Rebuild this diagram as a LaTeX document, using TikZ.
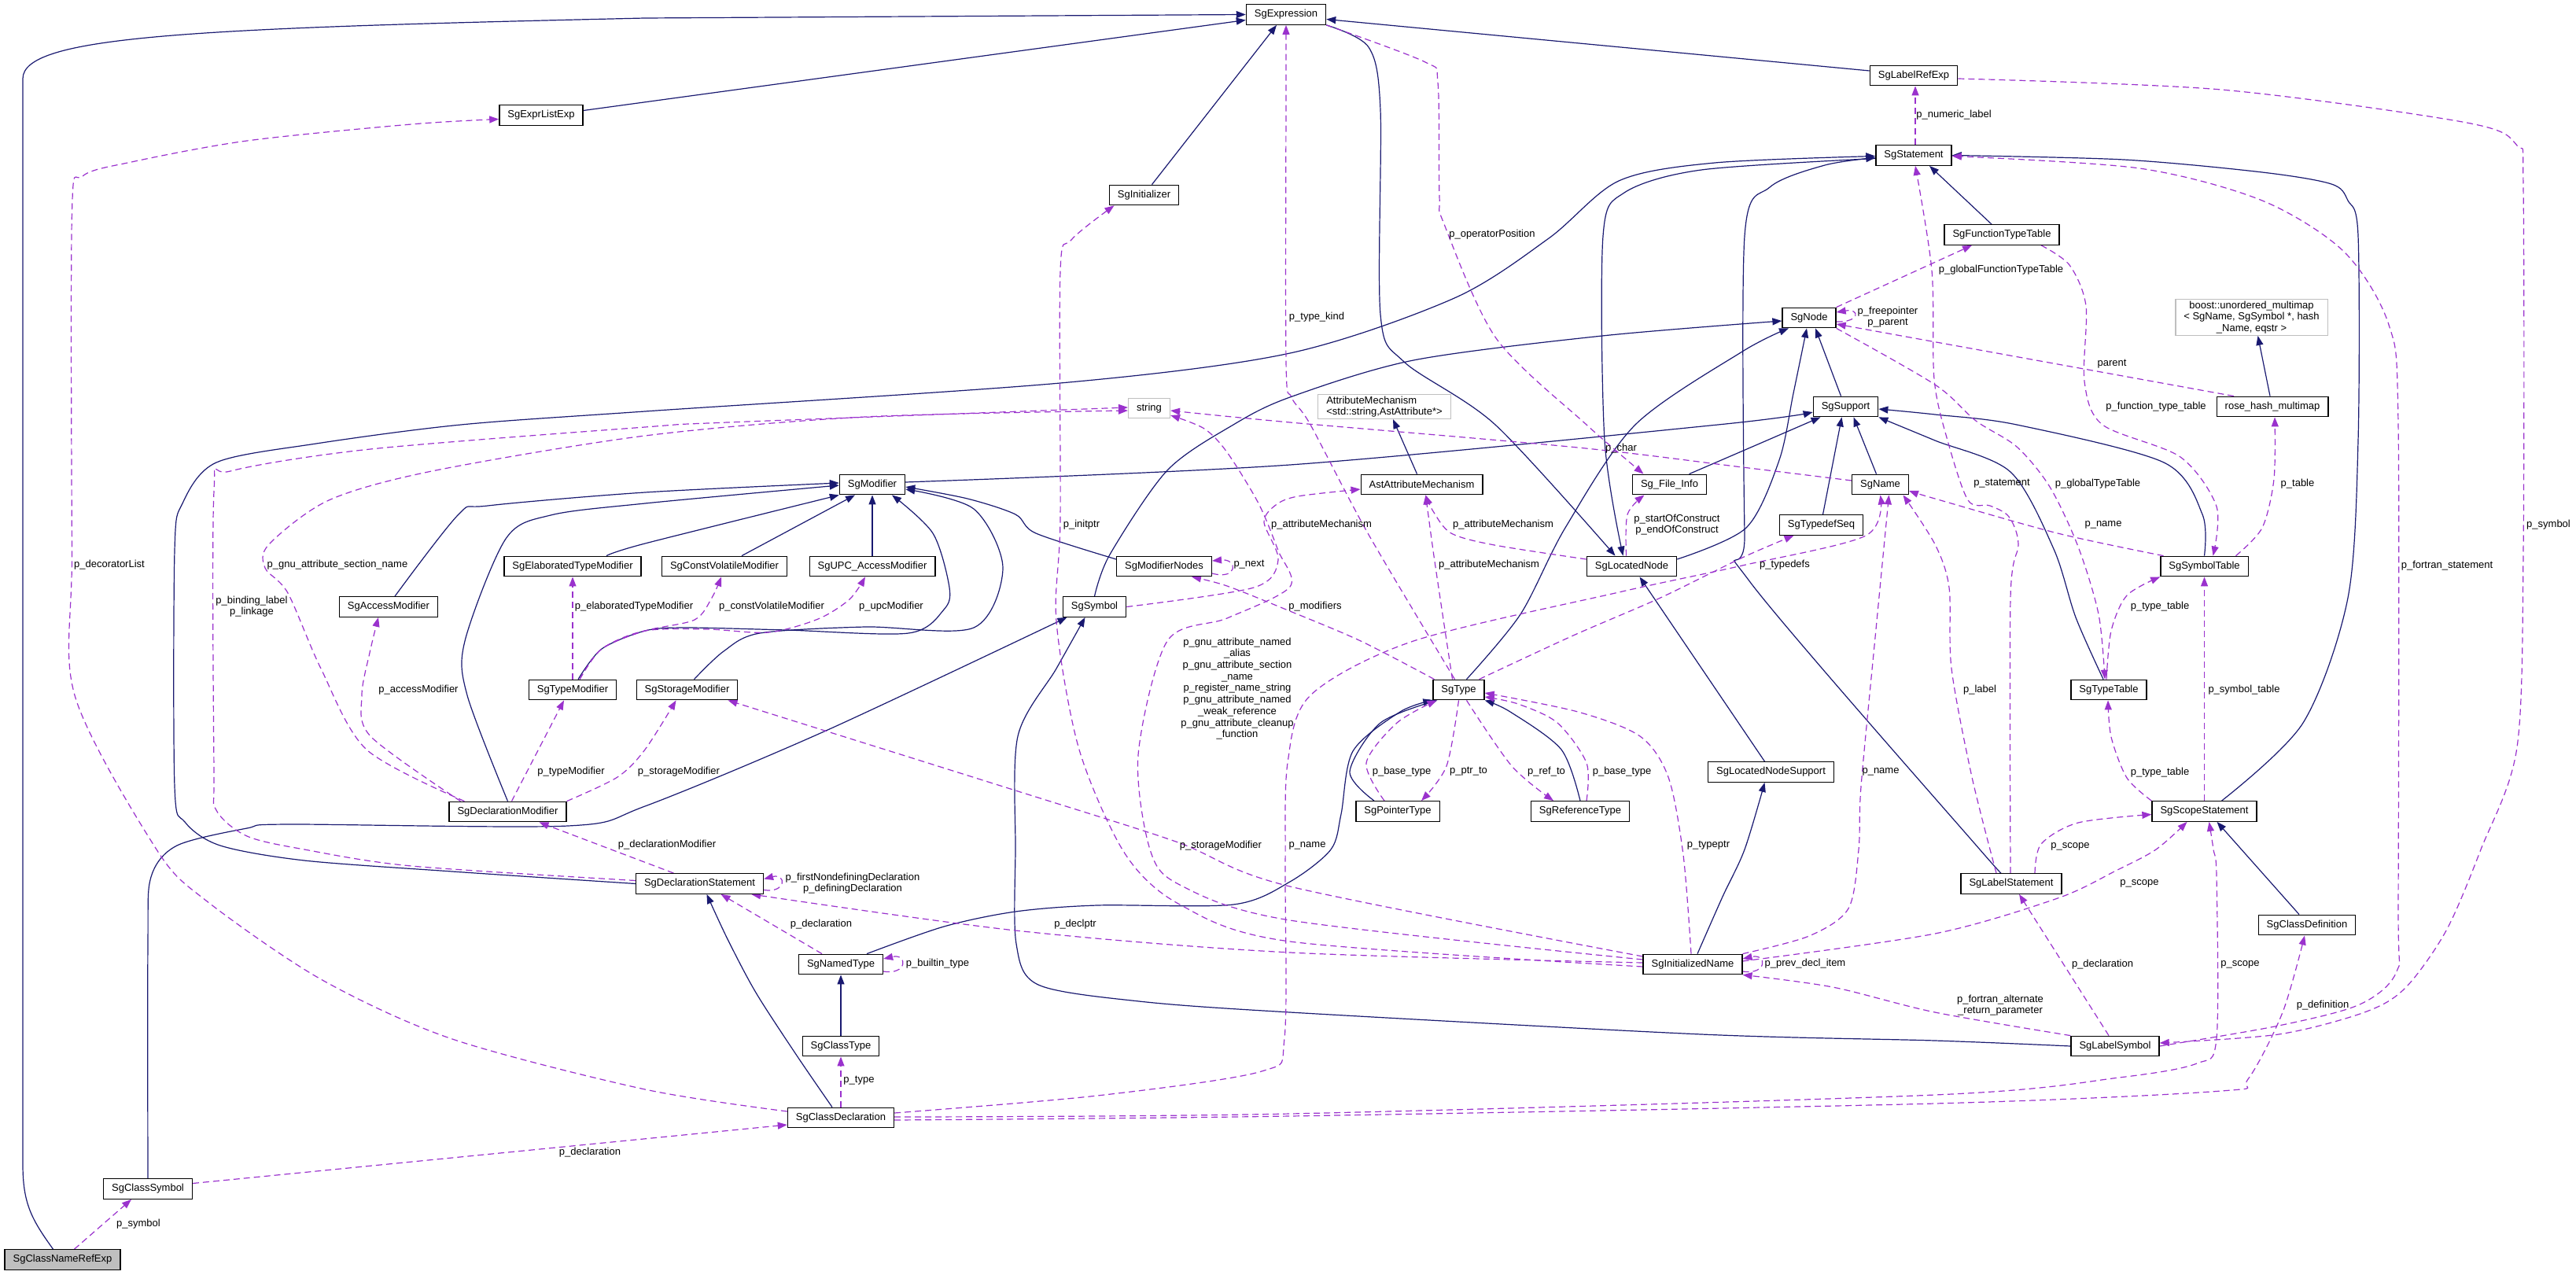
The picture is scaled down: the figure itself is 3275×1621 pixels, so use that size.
\documentclass[tikz,border=0pt]{standalone}
\usepackage{fontspec}
\setmainfont{Liberation Sans}
\usepackage{tikz}
\usetikzlibrary{arrows.meta, backgrounds}

\definecolor{inhblue}{HTML}{191970}
\definecolor{usepurple}{HTML}{9A32CD}
\definecolor{extgray}{HTML}{BFBFBF}

\begin{document}
\begin{tikzpicture}[x=1pt, y=-1pt,
    cls/.style={rectangle, draw=black, line width=1.3pt, fill=white, minimum height=25.5pt, inner xsep=10.5pt, inner ysep=2pt, font=\fontsize{13}{14.7}\selectfont},
    ext/.style={cls, draw=extgray},
    lbl/.style={font=\fontsize{13}{14.7}\selectfont, inner sep=0pt, align=center},
    inh/.style={-{Triangle[length=12pt, width=9pt]}, line width=1.2pt, inhblue},
    use/.style={-{Triangle[length=12pt, width=9pt]}, line width=1.2pt, usepurple, dash pattern=on 8pt off 5pt},
]
\useasboundingbox (0,0) rectangle (3275,1621);

\node[cls, fill=extgray] (cnre) at (79.5,1601.5) {SgClassNameRefExp};
\node[cls] (csym) at (188,1511.5) {SgClassSymbol};
\node[cls] (expr) at (1635,18.5) {SgExpression};
\node[cls] (exprl) at (688,146.5) {SgExprListExp};
\node[cls] (init) at (1454.5,248) {SgInitializer};
\node[cls] (lref) at (2433,96) {SgLabelRefExp};
\node[cls] (stmt) at (2433,197.5) {SgStatement};
\node[cls] (ftt) at (2545,298.5) {SgFunctionTypeTable};
\node[cls] (sgnode) at (2300,404) {SgNode};
\node[ext, align=center] (boost) at (2862.5,403.5) {boost::unordered\_multimap\\< SgName, SgSymbol *, hash\\\_Name, eqstr >};
\node[cls] (rhm) at (2889,517) {rose\_hash\_multimap};
\node[ext, align=left] (attm) at (1760,517) {AttributeMechanism\\<std::string,AstAttribute*>};
\node[ext] (str) at (1461,519) {string};
\node[cls] (supp) at (2346.5,517) {SgSupport};
\node[cls] (mod) at (1109,616) {SgModifier};
\node[cls] (aam) at (1807.5,616) {AstAttributeMechanism};
\node[cls] (finfo) at (2122.5,616) {Sg\_File\_Info};
\node[cls] (name) at (2390.5,616) {SgName};
\node[cls] (tds) at (2315.5,667.5) {SgTypedefSeq};
\node[cls] (etm) at (728,720) {SgElaboratedTypeModifier};
\node[cls] (cvm) at (921,720) {SgConstVolatileModifier};
\node[cls] (upc) at (1109,720) {SgUPC\_AccessModifier};
\node[cls] (modn) at (1480,720) {SgModifierNodes};
\node[cls] (lnode) at (2074.5,720) {SgLocatedNode};
\node[cls] (symt) at (2802.5,720) {SgSymbolTable};
\node[cls] (accm) at (494,771.5) {SgAccessModifier};
\node[cls] (sym) at (1391.5,771.5) {SgSymbol};
\node[cls] (tmod) at (728,877) {SgTypeModifier};
\node[cls] (smod) at (873.5,877) {SgStorageModifier};
\node[cls] (type) at (1854.5,877) {SgType};
\node[cls] (ttab) at (2681,877) {SgTypeTable};
\node[cls] (lns) at (2251.5,981.5) {SgLocatedNodeSupport};
\node[cls] (dmod) at (645.5,1032) {SgDeclarationModifier};
\node[cls] (ptr) at (1777,1031.5) {SgPointerType};
\node[cls] (ref) at (2009,1031.5) {SgReferenceType};
\node[cls] (scope) at (2802.5,1031.5) {SgScopeStatement};
\node[cls] (dstmt) at (889.5,1123.5) {SgDeclarationStatement};
\node[cls] (lstmt) at (2557,1123.5) {SgLabelStatement};
\node[cls] (cdef) at (2933,1176) {SgClassDefinition};
\node[cls] (ntype) at (1069,1226) {SgNamedType};
\node[cls] (iname) at (2152,1226) {SgInitializedName};
\node[cls] (ctype) at (1069,1330) {SgClassType};
\node[cls] (lsym) at (2689,1330) {SgLabelSymbol};
\node[cls] (cdecl) at (1069,1421) {SgClassDeclaration};

\node[lbl] (l1) at (176,1556) {p\_symbol};
\node[lbl] (l2) at (750,1465) {p\_declaration};
\node[lbl] (l3) at (1092,1374) {p\_type};
\node[lbl] (l4) at (139,718) {p\_decoratorList};
\node[lbl] (l5) at (320,771) {p\_binding\_label\\p\_linkage};
\node[lbl] (l6) at (429,718) {p\_gnu\_attribute\_section\_name};
\node[lbl] (l7) at (532,877) {p\_accessModifier};
\node[lbl] (l8) at (726,981) {p\_typeModifier};
\node[lbl] (l9) at (863,981) {p\_storageModifier};
\node[lbl] (l10) at (806,771) {p\_elaboratedTypeModifier};
\node[lbl] (l11) at (981,771) {p\_constVolatileModifier};
\node[lbl] (l12) at (1133,771) {p\_upcModifier};
\node[lbl] (l13) at (848,1074) {p\_declarationModifier};
\node[lbl] (l14) at (1084,1123) {p\_firstNondefiningDeclaration\\p\_definingDeclaration};
\node[lbl] (l15) at (1044,1175) {p\_declaration};
\node[lbl] (l16) at (1192,1225) {p\_builtin\_type};
\node[lbl] (l17) at (1367,1175) {p\_declptr};
\node[lbl] (l18) at (1552,1075) {p\_storageModifier};
\node[lbl] (l19) at (1375,667) {p\_initptr};
\node[lbl] (l20) at (1573,875.5) {p\_gnu\_attribute\_named\\\_alias\\p\_gnu\_attribute\_section\\\_name\\p\_register\_name\_string\\p\_gnu\_attribute\_named\\\_weak\_reference\\p\_gnu\_attribute\_cleanup\\\_function};
\node[lbl] (l21) at (2391,981) {p\_name};
\node[lbl] (l22) at (2172,1075) {p\_typeptr};
\node[lbl] (l23) at (2295,1225) {p\_prev\_decl\_item};
\node[lbl] (l24) at (2720,1123) {p\_scope};
\node[lbl] (l25) at (2543,1278) {p\_fortran\_alternate\\\_return\_parameter};
\node[lbl] (l26) at (2673,1226) {p\_declaration};
\node[lbl] (l27) at (3111,719) {p\_fortran\_statement};
\node[lbl] (l28) at (3240,667) {p\_symbol};
\node[lbl] (l29) at (2545,615) {p\_statement};
\node[lbl] (l30) at (2517,877) {p\_label};
\node[lbl] (l31) at (2632,1076) {p\_scope};
\node[lbl] (l32) at (2674,667) {p\_name};
\node[lbl] (l33) at (2921,615) {p\_table};
\node[lbl] (l34) at (2741,517) {p\_function\_type\_table};
\node[lbl] (l35) at (2746,771) {p\_type\_table};
\node[lbl] (l36) at (2853,877) {p\_symbol\_table};
\node[lbl] (l37) at (2746,982) {p\_type\_table};
\node[lbl] (l38) at (2667,615) {p\_globalTypeTable};
\node[lbl] (l39) at (2544,343) {p\_globalFunctionTypeTable};
\node[lbl] (l40) at (2400,403) {p\_freepointer\\p\_parent};
\node[lbl] (l41) at (2685,463) {parent};
\node[lbl] (l42) at (2484,146) {p\_numeric\_label};
\node[lbl] (l43) at (1897,298) {p\_operatorPosition};
\node[lbl] (l44) at (1674,403) {p\_type\_kind};
\node[lbl] (l45) at (1672,771) {p\_modifiers};
\node[lbl] (l46) at (2269,718) {p\_typedefs};
\node[lbl] (l47) at (1893,718) {p\_attributeMechanism};
\node[lbl] (l48) at (1911,667) {p\_attributeMechanism};
\node[lbl] (l49) at (1680,667) {p\_attributeMechanism};
\node[lbl] (l50) at (2132,667) {p\_startOfConstruct\\p\_endOfConstruct};
\node[lbl] (l51) at (2061,570) {p\_char};
\node[lbl] (l52) at (1867,981) {p\_ptr\_to};
\node[lbl] (l53) at (1782,981) {p\_base\_type};
\node[lbl] (l54) at (1966,981) {p\_ref\_to};
\node[lbl] (l55) at (2062,981) {p\_base\_type};
\node[lbl] (l56) at (1662,1075) {p\_name};
\node[lbl] (l57) at (2848,1226) {p\_scope};
\node[lbl] (l58) at (2953,1278) {p\_definition};
\node[lbl] (l59) at (1588,718) {p\_next};

\begin{scope}[on background layer]
\draw[inh] ([xshift=-12pt]cnre.north) .. controls (40,1550) and (29,1530) .. (29,1480) -- (29,100) .. controls (29,45) and (250,36) .. (820,23) -- (expr.west);
\draw[inh] ([yshift=6pt]exprl.east) -- ([yshift=-7pt]expr.west);
\draw[inh] ([xshift=10pt]init.north) -- ([xshift=-12pt]expr.south);
\draw[inh] ([yshift=6pt]lref.west) -- ([yshift=-6pt]expr.east);
\draw[inh] plot[smooth] coordinates {(expr.south east) (1740,60) (1755,140) (1755,400) (1785,460) (1901,540) ([xshift=-21pt]lnode.north)};
\draw[inh] plot[smooth] coordinates {([yshift=-4pt]stmt.west) (2163,216) (2065,245) (2038,300) (2040,560) ([xshift=-11pt]lnode.north)};
\draw[inh] plot[smooth] coordinates {(dstmt.west) (575,1108) (387,1094) (280,1075) (235,1045) (222,1000) (222,700) (232,640) (275,588) (402,564) (586,540) (820,523) (1348,487) (1640,449) (1849,379) (1969,303) (2058,230) (2180,207) ([yshift=-1pt]stmt.west)};
\draw[inh] plot[smooth] coordinates {([xshift=-11pt]lstmt.north) (2517,1080) (2225,740) (2218,680) (2218,300) (2250,238) (2320,210) ([yshift=-3pt]stmt.west)};
\draw[inh] ([xshift=-13pt]ftt.north) -- ([xshift=20pt]stmt.south);
\draw[inh] plot[smooth] coordinates {([xshift=22pt]scope.north) (2928,919) (2985,760) (2998,560) (2998,300) (2985,255) (2964,234) (2876,219) (2700,203) (stmt.east)};
\draw[inh] plot[smooth] coordinates {([yshift=9pt]lnode.east) (2220,671) (2262,585) (2280,500) ([xshift=-3pt]sgnode.south)};
\draw[inh] ([xshift=-6pt]supp.north) -- ([xshift=8pt]sgnode.south);
\draw[inh] plot[smooth] coordinates {([xshift=10pt]type.north) (1933,781) (1990,671) (2079,540) (2215,447) ([xshift=-26pt]sgnode.south)};
\draw[inh] plot[smooth] coordinates {(sym.north) (1411,705) (1484,598) (1568,540) (1640,505) (1797,458) (2037,427) ([yshift=-4pt]sgnode.west)};
\draw[inh] plot[smooth] coordinates {([yshift=3pt]mod.east) (1640,591) (2184,540) ([yshift=-7pt]supp.west)};
\draw[inh] plot[smooth] coordinates {([xshift=25pt]finfo.north) (2230,567) ([xshift=-32pt]supp.south)};
\draw[inh] ([xshift=2pt]tds.north) -- ([xshift=-5pt]supp.south);
\draw[inh] ([xshift=-5pt]name.north) -- ([xshift=10pt]supp.south);
\draw[inh] plot[smooth] coordinates {(symt.north) (2800,654) (2751,588) (2564,540) (2460,527) ([yshift=-3pt]supp.east)};
\draw[inh] plot[smooth] coordinates {([xshift=-7pt]ttab.north) (2639,785) (2611,698) (2556,600) (2460,560) (supp.south east)};
\draw[inh] ([xshift=-3pt]rhm.north) -- ([xshift=8pt]boost.south);
\draw[inh] ([xshift=-6pt]aam.north) -- ([xshift=11pt]attm.south);
\draw[inh] plot[smooth] coordinates {([xshift=8pt]accm.north) (583,654) (620,643) (820,626) ([yshift=2pt]mod.west)};
\draw[inh] plot[smooth] coordinates {([xshift=43pt]etm.north) (820,691) (mod.south west)};
\draw[inh] ([xshift=22pt]cvm.north) -- ([xshift=-22pt]mod.south);
\draw[inh] (upc.north) -- (mod.south);
\draw[inh] plot[smooth] coordinates {([xshift=7pt]tmod.north) (765,825) (820,802) (872,798) (1000,801) (1155,805) (1200,775) (1207,747) (1186,678) ([xshift=25pt]mod.south)};
\draw[inh] plot[smooth] coordinates {([xshift=9pt]smod.north) (920,828) (966,805) (1100,797) (1238,798) (1275,722) (1238,647) ([yshift=-6pt]mod.east)};
\draw[inh] plot[smooth] coordinates {(dmod.north) (594,884) (591,815) (643,685) (700,655) (820,640) ([yshift=-1pt]mod.west)};
\draw[inh] plot[smooth] coordinates {([yshift=9pt]modn.west) (1317,678) (1291,654) (1230,634) ([yshift=-3pt]mod.east)};
\draw[inh] plot[smooth] coordinates {(csym.north) (188,1200) (192,1115) (225,1075) (314,1053) (366,1048) (722,1050) (820,1025) (1050,929) ([xshift=-35pt]sym.south)};
\draw[inh] plot[smooth] coordinates {(lsym.west) (2460,1323) (2163,1315) (1640,1287) (1448,1273) (1320,1252) (1292,1200) (1291,1080) (1294,936) (1343,850) ([xshift=-12pt]sym.south)};
\draw[inh] ([xshift=-10pt]cdef.north) -- ([xshift=16pt]scope.south);
\draw[inh] plot[smooth] coordinates {([xshift=6pt]iname.north) (2190,1140) (2218,1080) ([xshift=-8pt]lns.south)};
\draw[inh] ([xshift=-8pt]lns.north) -- ([xshift=10pt]lnode.south);
\draw[inh] plot[smooth] coordinates {([xshift=-11pt]cdecl.north) (1013,1342) (961,1262) (925,1194) ([xshift=9pt]dstmt.south)};
\draw[inh] (ctype.north) -- (ntype.south);
\draw[inh] plot[smooth] coordinates {([xshift=33pt]ntype.north) (1200,1178) (1291,1159) (1395,1151) (1568,1150) (1640,1121) (1692,1080) (1705,1035) (1720,955) (1780,905) (type.south west)};
\draw[inh] plot[smooth] coordinates {([xshift=-30pt]ptr.north) (1716,981) (1755,919) ([xshift=6pt]type.south west)};
\draw[inh] plot[smooth] coordinates {(ref.north) (1985,953) (1920,905) (type.south east)};

\draw[use] ([xshift=15pt]cnre.north) -- ([xshift=-21pt]csym.south);
\draw[use] ([yshift=7pt]csym.east) -- ([yshift=-9pt]cdecl.west);
\draw[use] (cdecl.north) -- (ctype.south);
\draw[use] plot[smooth] coordinates {([yshift=8pt]cdecl.west) (820,1385) (575,1321) (408,1245) (262,1145) (199,1080) (95,884) (91.5,700) (91.5,270) (105,224) (167,206) (314,179) (523,158) ([yshift=-5pt]exprl.west)};
\draw[use] plot[smooth] coordinates {([yshift=4pt]dstmt.west) (523,1101) (387,1080) (314,1063) (275,1030) (272,980) (272,625) (293,599) (471,571) (820,543) (925,537) ([yshift=1pt]str.west)};
\draw[use] plot[smooth] coordinates {([xshift=-55pt]dmod.north) (466,953) (408,850) (366,754) (337,722) (342,692) (418,636) (549,599) (820,554) (1100,530) ([yshift=-3pt]str.west)};
\draw[use] plot[smooth] coordinates {([xshift=-60pt]dmod.north) (471,936) (460,884) (470,830) ([xshift=-13pt]accm.south)};
\draw[use] ([xshift=5pt]dmod.north) -- ([xshift=-11pt]tmod.south);
\draw[use] plot[smooth] coordinates {(dmod.north east) (785,988) (820,953) ([xshift=-14pt]smod.south)};
\draw[use] (tmod.north) -- (etm.south);
\draw[use] plot[smooth] coordinates {([xshift=9pt]tmod.north) (765,825) (820,802) (883,788) (905,760) ([xshift=-4pt]cvm.south)};
\draw[use] plot[smooth] coordinates {([xshift=9pt]tmod.north) (765,825) (820,802) (900,800) (977,804) (1040,787) (1080,762) ([xshift=-9pt]upc.south)};
\draw[use] ([xshift=-33pt]dstmt.north) -- ([xshift=40pt]dmod.south);
\draw[use] ([yshift=-8pt]dstmt.east) .. controls (1000,1136) and (1000,1110) .. ([yshift=6pt]dstmt.east);
\draw[use] ([xshift=-24pt]ntype.north) -- ([xshift=27pt]dstmt.south);
\draw[use] ([yshift=-9pt]ntype.east) .. controls (1154,1240) and (1154,1212) .. ([yshift=7pt]ntype.east);
\draw[use] plot[smooth] coordinates {([yshift=2pt]iname.west) (1640,1211) (1291,1183) ([xshift=-16pt]dstmt.south east)};
\draw[use] plot[smooth] coordinates {([yshift=10pt]iname.west) (1640,1127) (1495,1070) (1291,1005) ([xshift=-13pt]smod.south east)};
\draw[use] plot[smooth] coordinates {([yshift=-3pt]iname.west) (1640,1197) (1500,1150) (1430,1085) (1372,953) (1343,790) (1348,660) (1348,345) (1362,305) ([xshift=-38pt]init.south)};
\draw[use] plot[smooth] coordinates {([yshift=6pt]iname.west) (1640,1170) (1500,1125) (1462,1080) (1447,960) (1484,815) (1560,786) (1640,746) (1625,700) (1600,640) (1560,575) (1531,545) ([yshift=-9pt]str.east)};
\draw[use] plot[smooth] coordinates {(iname.north east) (2300,1190) (2350,1155) (2363,1080) (2366,1000) (2385,800) ([xshift=11pt]name.south)};
\draw[use] plot[smooth] coordinates {([xshift=-2pt]iname.north) (2140,1087) (2121,988) (2085,936) (2006,905) ([yshift=-4pt]type.east)};
\draw[use] ([yshift=-9pt]iname.east) .. controls (2247,1240) and (2247,1212) .. ([yshift=7pt]iname.east);
\draw[use] plot[smooth] coordinates {([yshift=4pt]iname.east) (2460,1187) (2616,1142) (2690,1107) (2741,1080) ([xshift=-22pt]scope.south)};
\draw[use] plot[smooth] coordinates {(lsym.north west) (2460,1287) (2330,1255) (iname.south east)};
\draw[use] ([xshift=-8pt]lsym.north) -- ([xshift=10pt]lstmt.south);
\draw[use] plot[smooth] coordinates {(lsym.east) (2897,1304) (3000,1277) (3047,1235) (3049,1150) (3049,540) (3037,413) (2980,320) (2876,255) (2720,214) ([yshift=-1pt]stmt.east)};
\draw[use] plot[smooth] coordinates {([yshift=-4pt]lref.east) (2824,114) (3136,156) (3200,185) (3208,240) (3208,700) (3200,950) (3154,1080) (3110,1183) (3058,1256) (3006,1287) (2897,1315) ([yshift=4pt]lsym.east)};
\draw[use] plot[smooth] coordinates {([xshift=-1pt]lstmt.north) (2556,760) (2566,692) (2554,657) (2530,643) (2502,636) (2476,560) (2459,482) (2456,344) ([xshift=2pt]stmt.south)};
\draw[use] plot[smooth] coordinates {([xshift=-19pt]lstmt.north) (2507,988) (2481,850) (2478,747) (2460,692) ([xshift=29pt]name.south)};
\draw[use] plot[smooth] coordinates {([xshift=30pt]lstmt.north) (2595,1073) (2642,1046) ([yshift=-4pt]scope.west)};
\draw[use] plot[smooth] coordinates {([xshift=-52pt]symt.north) (2616,678) (2460,634) ([yshift=-8pt]name.east)};
\draw[use] plot[smooth] coordinates {([xshift=40pt]symt.north) (2876,671) (2891,609) ([xshift=3pt]rhm.south)};
\draw[use] plot[smooth] coordinates {([xshift=50pt]ftt.south) (2631,337) (2652,389) (2650,485) (2673,540) (2772,581) (2818,644) ([xshift=11pt]symt.north)};
\draw[use] plot[smooth] coordinates {([xshift=-3pt]ttab.north) (2684,802) (2704,757) (symt.south west)};
\draw[use] (scope.north) -- (symt.south);
\draw[use] plot[smooth] coordinates {(scope.north west) (2704,989) (2684,937) ([xshift=-1pt]ttab.south)};
\draw[use] plot[smooth] coordinates {(sgnode.south east) (2460,489) (2512,535) (2564,568) (2606,619) (2642,695) (2668,781) ([xshift=-5pt]ttab.north)};
\draw[use] (sgnode.north east) -- ([xshift=-38pt]ftt.south);
\draw[use] ([yshift=-5pt]sgnode.east) .. controls (2365,410) and (2365,392) .. ([yshift=7pt]sgnode.east);
\draw[use] ([xshift=-49pt]rhm.north) -- ([yshift=-8pt]sgnode.east);
\draw[use] ([xshift=2pt]stmt.north) -- ([xshift=2pt]lref.south);
\draw[use] plot[smooth] coordinates {(expr.south east) (1812,79) (1828,105) (1830,250) (1836,285) (1902,430) (2017,540) ([xshift=-33pt]finfo.north)};
\draw[use] plot[smooth] coordinates {([xshift=-5pt]type.north) (1739,678) (1666,540) (1642,505) (1635,460) (1635,100) (expr.south)};
\draw[use] plot[smooth] coordinates {([xshift=-31pt]type.north) (1730,815) (1640,777) (1560,745) ([xshift=35pt]modn.south)};
\draw[use] plot[smooth] coordinates {([xshift=26pt]type.north) (2000,808) (2111,760) (2215,709) ([xshift=-35pt]tds.south)};
\draw[use] plot[smooth] coordinates {([xshift=-8pt]type.north) (1834,781) (1822,700) ([xshift=5pt]aam.south)};
\draw[use] plot[smooth] coordinates {([yshift=9pt]lnode.west) (1900,693) (1845,678) (1822,650) ([xshift=5pt]aam.south)};
\draw[use] plot[smooth] coordinates {(sym.east) (1594,747) (1625,712) (1607,664) (1622,642) (1650,631) ([yshift=-6pt]aam.west)};
\draw[use] plot[smooth] coordinates {([xshift=-7pt]lnode.north) (2069,654) ([xshift=-32pt]finfo.south)};
\draw[use] plot[smooth] coordinates {([yshift=5pt]name.west) (2215,594) (2006,569) (1640,537) ([yshift=-3pt]str.east)};
\draw[use] ([yshift=-9pt]modn.east) .. controls (1574,738) and (1574,710) .. ([yshift=7pt]modn.east);
\draw[use] plot[smooth] coordinates {(type.south) (1839,974) ([xshift=30pt]ptr.north)};
\draw[use] plot[smooth] coordinates {([xshift=-17pt]ptr.north) (1737,970) (1776,919) ([xshift=-28pt]type.south)};
\draw[use] plot[smooth] coordinates {([xshift=10pt]type.south) (1922,974) ([xshift=-34pt]ref.north)};
\draw[use] plot[smooth] coordinates {([xshift=8pt]ref.north) (2017,970) (1980,919) (1930,895) ([yshift=-9pt]type.east)};
\draw[use] plot[smooth] coordinates {([yshift=6pt]cdecl.east) (1395,1393) (1604,1362) (1633,1320) (1634,1100) (1637,970) (1666,884) (1797,815) (2058,753) (2215,719) (2372,681) (name.south)};
\draw[use] plot[smooth] coordinates {([yshift=1pt]cdecl.east) (1640,1416) (2460,1392) (2694,1370) (2793,1352) (2818,1320) (2818,1115) (2814,1080) ([xshift=6pt]scope.south)};
\draw[use] plot[smooth] coordinates {([yshift=-3pt]cdecl.east) (1640,1419) (2460,1403) (2824,1387) (2858,1372) (2902,1287) ([xshift=-3pt]cdef.south)};
\end{scope}
\end{tikzpicture}
\end{document}
